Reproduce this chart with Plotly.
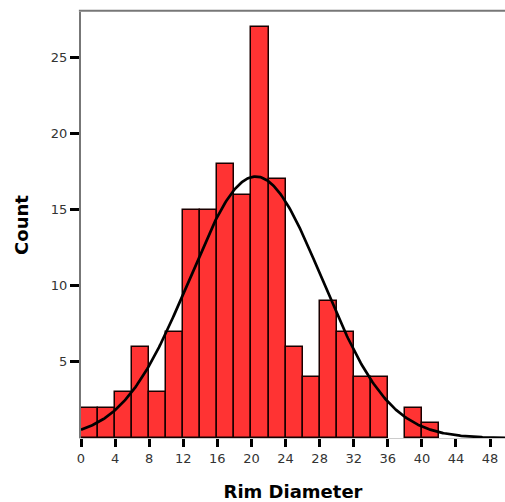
import numpy as np
import plotly.graph_objects as go

# Histogram data (bin width 2, starting at 0)
bin_starts = [0, 2, 4, 6, 8, 10, 12, 14, 16, 18, 20, 22, 24, 26, 28, 30, 32, 34, 36, 38, 40]
counts = [2, 2, 3, 6, 3, 7, 15, 15, 18, 16, 27, 17, 6, 4, 9, 7, 4, 4, 0, 2, 1]
bin_width = 2

# Normal curve parameters (fitted overlay)
mean_val = 20.5
sd_val = 7.8

x_ticks = list(range(0, 49, 4))
y_ticks = [5, 10, 15, 20, 25]

n_total = sum(counts)
xc = np.linspace(0, 50, 400)
yc = n_total * bin_width / (sd_val * np.sqrt(2 * np.pi)) * np.exp(-0.5 * ((xc - mean_val) / sd_val) ** 2)

fig = go.Figure()
fig.add_trace(go.Bar(
    x=[b + bin_width / 2 for b in bin_starts],
    y=counts,
    width=bin_width,
    marker=dict(color="#FF3333",
                line=dict(color="#1a0000", width=[1.5 if c > 0 else 0 for c in counts])),
    hoverinfo="x+y",
))
fig.add_trace(go.Scatter(x=xc, y=yc, mode="lines",
                         line=dict(color="black", width=2.7), hoverinfo="skip"))

fig.update_layout(
    width=505, height=502,
    margin=dict(l=81, r=0, t=12, b=64),
    plot_bgcolor="white", paper_bgcolor="white",
    showlegend=False,
    bargap=0,
    font=dict(family="DejaVu Sans", color="#333333", size=13),
    shapes=[dict(type="line", xref="paper", yref="paper", x0=-0.005, x1=1, y0=1.003, y1=1.003,
                 line=dict(color="#777777", width=2))],
)
fig.update_xaxes(
    range=[0, 49.75], tickvals=x_ticks, ticktext=[str(t) for t in x_ticks],
    showgrid=False, zeroline=False,
    showline=True, linecolor="#cccccc", linewidth=1,
    ticks="outside", ticklen=8, tickwidth=3, tickcolor="black",
    tickfont=dict(family="DejaVu Sans", size=13, color="#333333"),
    title=dict(text="<b>Rim Diameter</b>", font=dict(family="DejaVu Sans", size=18, color="black"),
               standoff=20),
)
fig.update_yaxes(
    range=[0, 28], tickvals=y_ticks, ticktext=[str(t) for t in y_ticks],
    showgrid=False, zeroline=False,
    showline=True, linecolor="#777777", linewidth=2,
    ticks="outside", ticklen=9, tickwidth=3, tickcolor="black",
    tickfont=dict(family="DejaVu Sans", size=13, color="#333333"),
    title=dict(text="<b>Count</b>", font=dict(family="DejaVu Sans", size=18, color="black"),
               standoff=18),
)

fig.write_html("out.html")
